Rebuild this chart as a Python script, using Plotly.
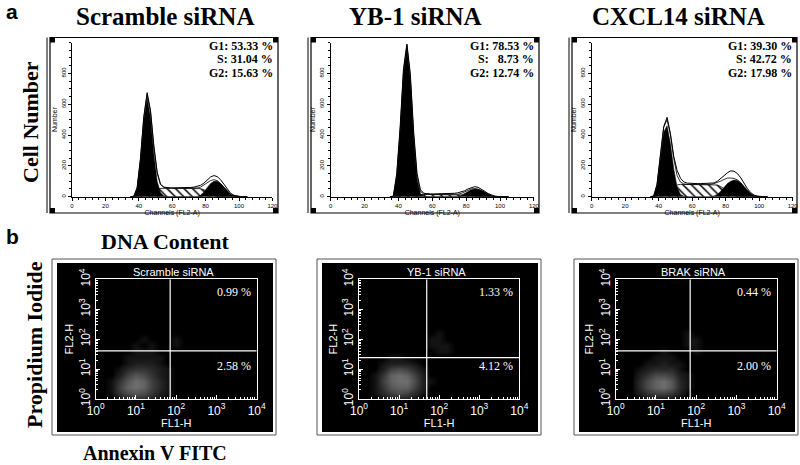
import math
import plotly.graph_objects as go

# ---------------- data ----------------
channels = [35, 37, 39, 41, 43, 45, 47, 49, 51, 53, 55, 57, 59, 61, 63, 65, 67, 69,
            71, 73, 75, 77, 79, 81, 83, 85, 87, 89, 91, 93, 95, 97, 99, 101, 103, 105]

hist_titles = ["Scramble siRNA", "YB-1 siRNA", "CXCL14 siRNA"]
phase_text = [["G1: 53.33 %", "S: 31.04 %", "G2: 15.63 %"],
              ["G1: 78.53 %", "S:   8.73 %", "G2: 12.74 %"],
              ["G1: 39.30 %", "S: 42.72 %", "G2: 17.98 %"]]

scr_total = [0, 3, 60, 250, 520, 675, 560, 330, 160, 80, 62, 58, 57, 57, 57, 57, 57, 58,
             60, 62, 66, 74, 88, 108, 128, 137, 130, 110, 80, 48, 22, 9, 3, 1, 0, 0]
scr_g1 = [0, 0, 50, 230, 495, 640, 515, 275, 100, 25, 5, 0, 0, 0, 0, 0, 0, 0,
          0, 0, 0, 0, 0, 0, 0, 0, 0, 0, 0, 0, 0, 0, 0, 0, 0, 0]
scr_s = [0, 0, 3, 8, 15, 22, 35, 48, 53, 55, 55, 55, 55, 55, 55, 55, 55, 55,
         55, 55, 55, 52, 45, 33, 20, 10, 4, 0, 0, 0, 0, 0, 0, 0, 0, 0]
scr_g2 = [0, 0, 0, 0, 0, 0, 0, 0, 0, 0, 0, 0, 0, 0, 0, 0, 0, 0,
          0, 0, 2, 10, 30, 60, 85, 100, 100, 85, 60, 35, 15, 5, 1, 0, 0, 0]

yb_total = [0, 5, 150, 450, 830, 990, 800, 420, 150, 45, 22, 19, 18, 18, 18, 18, 18, 19,
            20, 22, 25, 30, 38, 50, 60, 65, 61, 50, 35, 20, 9, 3, 1, 0, 0, 0]
yb_g1 = [0, 0, 130, 420, 800, 970, 760, 380, 110, 20, 3, 0, 0, 0, 0, 0, 0, 0,
         0, 0, 0, 0, 0, 0, 0, 0, 0, 0, 0, 0, 0, 0, 0, 0, 0, 0]
yb_s = [0, 0, 2, 6, 10, 12, 13, 14, 14, 14, 14, 14, 14, 14, 14, 14, 14, 14,
        14, 14, 14, 13, 11, 8, 5, 3, 1, 0, 0, 0, 0, 0, 0, 0, 0, 0]
yb_g2 = [0, 0, 0, 0, 0, 0, 0, 0, 0, 0, 0, 0, 0, 0, 0, 0, 0, 0,
         0, 0, 2, 8, 20, 32, 45, 50, 48, 40, 28, 15, 6, 2, 0, 0, 0, 0]

cx_total = [0, 5, 80, 260, 455, 515, 410, 260, 170, 120, 96, 88, 86, 85, 85, 85, 85, 85,
            86, 89, 100, 116, 136, 155, 168, 165, 150, 122, 86, 52, 26, 10, 3, 1, 0, 0]
cx_g1 = [0, 0, 70, 240, 420, 460, 345, 180, 60, 15, 3, 0, 0, 0, 0, 0, 0, 0,
         0, 0, 0, 0, 0, 0, 0, 0, 0, 0, 0, 0, 0, 0, 0, 0, 0, 0]
cx_s = [0, 0, 5, 15, 30, 40, 55, 68, 76, 80, 80, 80, 80, 80, 80, 80, 80, 80,
        80, 80, 76, 66, 52, 36, 21, 10, 4, 1, 0, 0, 0, 0, 0, 0, 0, 0]
cx_g2 = [0, 0, 0, 0, 0, 0, 0, 0, 0, 0, 0, 0, 0, 0, 0, 0, 0, 0,
         0, 5, 15, 35, 60, 85, 100, 108, 105, 90, 65, 38, 18, 6, 1, 0, 0, 0]

hist_ticks = [0, 20, 40, 60, 80, 100, 120]
count_ticks = [0, 200, 400, 600, 800]

# Annexin V / PI dot plots: density on a log10 grid
dot_titles = ["Scramble siRNA", "YB-1 siRNA", "BRAK siRNA"]
quad_text = [["0.99 %", "2.58 %"], ["1.33 %", "4.12 %"], ["0.44 %", "2.00 %"]]
gate_fl1 = [1.85, 1.69, 1.85]   # log10 of quadrant gate on FL1-H
gate_fl2 = [1.61, 1.38, 1.61]   # log10 of quadrant gate on FL2-H
log_x = [0.2, 0.4, 0.6, 0.8, 1.0, 1.2, 1.4, 1.6, 1.8, 2.0, 2.2, 2.4, 2.6]
log_y = [0.0, 0.2, 0.4, 0.6, 0.8, 1.0, 1.2, 1.4, 1.6, 1.8, 2.0, 2.2, 2.4]
dens_scr = [
    [0, 0, 1, 2, 3, 3, 2, 1, 0, 0, 0, 0, 0],
    [0, 1, 4, 6, 7, 6, 4, 2, 1, 0, 0, 0, 0],
    [0, 1, 5, 8, 9, 8, 5, 3, 1, 0, 0, 0, 0],
    [0, 1, 4, 7, 9, 8, 5, 3, 1, 0, 0, 0, 0],
    [0, 0, 2, 5, 7, 6, 4, 2, 1, 0, 0, 0, 0],
    [0, 0, 1, 3, 4, 4, 3, 2, 1, 0, 0, 0, 0],
    [0, 0, 0, 1, 2, 2, 2, 1, 0, 0, 0, 0, 0],
    [0, 0, 0, 1, 1, 1, 1, 1, 0, 0, 0, 0, 0],
    [0, 0, 0, 0, 1, 1, 1, 0, 0, 0, 0, 0, 0],
    [0, 0, 0, 0, 1, 0, 1, 0, 0, 1, 0, 0, 0],
    [0, 0, 0, 0, 0, 1, 0, 0, 0, 1, 0, 0, 0],
    [0, 0, 0, 0, 0, 0, 0, 0, 0, 0, 0, 0, 0],
    [0, 0, 0, 0, 0, 0, 0, 0, 0, 0, 0, 0, 0]]
dens_yb = [
    [0, 0, 1, 2, 2, 2, 1, 0, 0, 0, 0, 0, 0],
    [0, 1, 3, 5, 6, 5, 3, 1, 0, 0, 0, 0, 0],
    [0, 1, 4, 7, 8, 8, 5, 2, 0, 0, 0, 0, 0],
    [0, 1, 5, 8, 9, 9, 6, 2, 1, 0, 0, 0, 0],
    [0, 1, 4, 8, 9, 8, 5, 2, 0, 0, 0, 0, 0],
    [0, 0, 2, 5, 6, 5, 3, 1, 0, 0, 0, 0, 0],
    [0, 0, 1, 2, 2, 2, 1, 0, 0, 0, 0, 0, 0],
    [0, 0, 0, 1, 1, 0, 0, 0, 0, 0, 0, 0, 0],
    [0, 0, 0, 0, 0, 0, 0, 0, 0, 1, 1, 0, 0],
    [0, 0, 0, 0, 0, 0, 0, 0, 1, 1, 1, 0, 0],
    [0, 0, 0, 0, 0, 0, 0, 0, 1, 1, 0, 0, 0],
    [0, 0, 0, 0, 0, 0, 0, 0, 0, 1, 0, 0, 0],
    [0, 0, 0, 0, 0, 0, 0, 0, 0, 0, 0, 0, 0]]
dens_brak = [
    [0, 0, 0, 1, 1, 1, 1, 0, 0, 0, 0, 0, 0],
    [0, 0, 2, 4, 5, 5, 4, 2, 0, 0, 0, 0, 0],
    [0, 0, 3, 6, 8, 9, 7, 3, 1, 0, 0, 0, 0],
    [0, 0, 3, 6, 8, 9, 7, 3, 1, 0, 0, 0, 0],
    [0, 0, 2, 4, 6, 6, 5, 2, 1, 0, 0, 0, 0],
    [0, 0, 1, 2, 3, 3, 3, 1, 0, 0, 0, 0, 0],
    [0, 0, 0, 1, 1, 2, 1, 1, 0, 0, 0, 0, 0],
    [0, 0, 0, 0, 1, 1, 1, 0, 0, 0, 0, 0, 0],
    [0, 0, 0, 0, 0, 1, 0, 0, 0, 1, 0, 0, 0],
    [0, 0, 0, 0, 0, 0, 0, 0, 1, 1, 0, 0, 0],
    [0, 0, 0, 0, 0, 0, 0, 0, 1, 1, 0, 0, 0],
    [0, 0, 0, 0, 0, 0, 0, 0, 1, 0, 0, 0, 0],
    [0, 0, 0, 0, 0, 0, 0, 0, 0, 0, 0, 0, 0]]
decades = [0, 1, 2, 3, 4]

# ---------------- layout helpers ----------------
W, H = 800, 465
def PX(x): return x / W
def PY(y): return 1 - y / H

SERIF = "Liberation Serif"
SANS = "Liberation Sans"

fig = go.Figure()
shapes, annotations = [], []

# histogram geometry (pixels): x of channel 0, x of channel 120
hist_x = [(72, 272.4), (330.7, 533.9), (591.7, 792.7)]
hist_frame = [(50, 278), (311, 539), (572, 797)]
hist_sets = [(scr_total, scr_g1, scr_s, scr_g2),
             (yb_total, yb_g1, yb_s, yb_g2),
             (cx_total, cx_g1, cx_s, cx_g2)]
title_cx = [165, 415, 678]

for i in range(3):
    n = i + 1
    xa, ya = f"x{n}", f"y{n}"
    total, g1, s, g2 = hist_sets[i]
    fit = [a + b + c for a, b, c in zip(g1, s, g2)]
    fig.add_trace(go.Scatter(x=channels, y=total, xaxis=xa, yaxis=ya, mode="lines",
                             line=dict(color="black", width=1), fill="tozeroy",
                             fillcolor="white", showlegend=False))
    fig.add_trace(go.Scatter(x=channels, y=s, xaxis=xa, yaxis=ya, mode="lines",
                             line=dict(color="black", width=0.8), fill="tozeroy",
                             fillcolor="white",
                             fillpattern=dict(shape="\\", fgcolor="black", bgcolor="white",
                                              size=6, solidity=0.25),
                             showlegend=False))
    fig.add_trace(go.Scatter(x=channels, y=fit, xaxis=xa, yaxis=ya, mode="lines",
                             line=dict(color="black", width=0.8), showlegend=False))
    fig.add_trace(go.Scatter(x=channels, y=g1, xaxis=xa, yaxis=ya, mode="lines",
                             line=dict(color="black", width=0.5), fill="tozeroy",
                             fillcolor="black", showlegend=False))
    fig.add_trace(go.Scatter(x=channels, y=g2, xaxis=xa, yaxis=ya, mode="lines",
                             line=dict(color="black", width=0.5), fill="tozeroy",
                             fillcolor="black", showlegend=False))
    x0, x1 = hist_x[i]
    axx = dict(domain=[PX(x0), PX(x1)], range=[0, 120], anchor=ya, automargin=False,
               tickvals=hist_ticks, ticktext=[str(t) for t in hist_ticks],
               ticks="outside", ticklen=3, tickwidth=0.8, tickcolor="black",
               minor=dict(dtick=4, tick0=0, ticks="outside", ticklen=2, tickcolor="black"),
               showline=True, linecolor="black", linewidth=1, showgrid=False, zeroline=False,
               tickfont=dict(family=SANS, size=6, color="black"),
               title=dict(text="Channels (FL2-A)", font=dict(family=SANS, size=7, color="black"),
                          standoff=0))
    axy = dict(domain=[PY(196.7), PY(42.5)], range=[0, 1000], anchor=xa, automargin=False,
               tickvals=count_ticks, ticktext=[str(t) for t in count_ticks], tickangle=-90,
               ticks="outside", ticklen=3, tickwidth=0.8, tickcolor="black",
               minor=dict(dtick=50, tick0=0, ticks="outside", ticklen=2, tickcolor="black"),
               showline=True, linecolor="black", linewidth=1, showgrid=False, zeroline=False,
               tickfont=dict(family=SANS, size=6, color="black"),
               title=dict(text="Number", font=dict(family=SANS, size=7, color="black"),
                          standoff=2))
    fig.update_layout(**{f"xaxis{n}": axx, f"yaxis{n}": axy})

    fl, fr = hist_frame[i]
    shapes.append(dict(type="rect", xref="paper", yref="paper", x0=PX(fl), x1=PX(fr),
                       y0=PY(213), y1=PY(37.5), line=dict(color="black", width=1.2)))
    shapes.append(dict(type="line", xref="paper", yref="paper", x0=PX(fl - 3), x1=PX(fl - 3),
                       y0=PY(213), y1=PY(37.5), line=dict(color="black", width=1)))
    for (cx, cy) in [(fl + 2.5, 40), (fr - 2.5, 40), (fl + 2.5, 210.5), (fr - 2.5, 210.5)]:
        shapes.append(dict(type="rect", xref="paper", yref="paper", x0=PX(cx - 2.5),
                           x1=PX(cx + 2.5), y0=PY(cy + 2.5), y1=PY(cy - 2.5),
                           fillcolor="black", line=dict(width=0)))
    for k, t in enumerate(phase_text[i]):
        annotations.append(dict(text="<b>" + t + "</b>", x=PX(fr - 3), y=PY(46 + 13.5 * k),
                                xref="paper", yref="paper", xanchor="right", yanchor="middle",
                                showarrow=False, font=dict(family=SERIF, size=12, color="black")))
    annotations.append(dict(text="<b>" + hist_titles[i] + "</b>", x=PX(title_cx[i]), y=PY(16),
                            xref="paper", yref="paper", xanchor="center", yanchor="middle",
                            showarrow=False, font=dict(family=SERIF, size=25, color="black")))

# dot plots
dot_x = [(95.7, 256.7), (359, 519.3), (615.7, 776.7)]
dot_black = [(57, 273), (322, 538), (579, 795)]
dens_sets = [dens_scr, dens_yb, dens_brak]
minor_vals = []
for d in range(4):
    for m in range(2, 10):
        minor_vals.append(d + math.log10(m))
for i in range(3):
    n = i + 4
    xa, ya = f"x{n}", f"y{n}"
    fig.add_trace(go.Heatmap(x=log_x, y=log_y, z=dens_sets[i], xaxis=xa, yaxis=ya,
                             zmin=0, zmax=9, zsmooth="best", showscale=False,
                             colorscale=[[0, "#000000"], [0.12, "#141414"], [0.45, "#353535"],
                                         [1, "#6e6e6e"]], hoverinfo="skip"))
    x0, x1 = dot_x[i]
    tt = [f"10<sup>{d}</sup>" for d in decades]
    common = dict(range=[0, 4], tickvals=decades, ticktext=tt, ticks="inside", ticklen=4,
                  tickcolor="white", tickwidth=1, automargin=False,
                  minor=dict(tickvals=minor_vals, ticks="inside", ticklen=2, tickcolor="white"),
                  showline=True, mirror=True, linecolor="white", linewidth=1.2,
                  showgrid=False, zeroline=False,
                  tickfont=dict(family=SANS, size=12, color="white"))
    axx = dict(common, domain=[PX(x0), PX(x1)], anchor=ya,
               title=dict(text="FL1-H", font=dict(family=SANS, size=11, color="white"),
                          standoff=0))
    axy = dict(common, domain=[PY(399), PY(279.3)], anchor=xa, tickangle=-90,
               title=dict(text="FL2-H", font=dict(family=SANS, size=11, color="white"),
                          standoff=0))
    fig.update_layout(**{f"xaxis{n}": axx, f"yaxis{n}": axy})
    bl, br = dot_black[i]
    shapes.append(dict(type="rect", xref="paper", yref="paper", x0=PX(bl), x1=PX(br),
                       y0=PY(432), y1=PY(263), fillcolor="black", line=dict(width=0),
                       layer="below"))
    shapes.append(dict(type="rect", xref="paper", yref="paper", x0=PX(bl - 5), x1=PX(br + 3),
                       y0=PY(435), y1=PY(259), line=dict(color="#555", width=1),
                       layer="below"))
    shapes.append(dict(type="line", xref=xa, yref=ya, x0=gate_fl1[i], x1=gate_fl1[i],
                       y0=0, y1=4, line=dict(color="white", width=1.2)))
    shapes.append(dict(type="line", xref=xa, yref=ya, x0=0, x1=4, y0=gate_fl2[i],
                       y1=gate_fl2[i], line=dict(color="white", width=1.2)))
    annotations.append(dict(text=dot_titles[i], x=PX((x0 + x1) / 2 - 3), y=PY(272),
                            xref="paper", yref="paper", xanchor="center", yanchor="middle",
                            showarrow=False,
                            font=dict(family=SANS, size=11, color="white")))
    for k, t in enumerate(quad_text[i]):
        annotations.append(dict(text=t, x=PX(x1 - 4), y=PY([292, 366][k]),
                                xref="paper", yref="paper", xanchor="right", yanchor="middle",
                                showarrow=False, font=dict(family=SERIF, size=12, color="white")))

# big labels
big = [
    dict(text="<b>a</b>", x=PX(4), y=PY(12), xanchor="left", yanchor="middle",
         font=dict(family=SANS, size=21, color="black")),
    dict(text="<b>b</b>", x=PX(4), y=PY(237), xanchor="left", yanchor="middle",
         font=dict(family=SANS, size=21, color="black")),
    dict(text="<b>Cell Number</b>", x=PX(30), y=PY(122), xanchor="center", yanchor="middle",
         textangle=-90, font=dict(family=SERIF, size=22, color="black")),
    dict(text="<b>DNA Content</b>", x=PX(165), y=PY(241), xanchor="center", yanchor="middle",
         font=dict(family=SERIF, size=22, color="black")),
    dict(text="<b>Propidium Iodide</b>", x=PX(34), y=PY(345), xanchor="center",
         yanchor="middle", textangle=-90, font=dict(family=SERIF, size=22, color="black")),
    dict(text="<b>Annexin V FITC</b>", x=PX(155), y=PY(453), xanchor="center",
         yanchor="middle", font=dict(family=SERIF, size=20, color="black")),
]
for a in big:
    a.update(xref="paper", yref="paper", showarrow=False)
annotations += big

fig.update_layout(width=W, height=H, margin=dict(l=0, r=0, t=0, b=0, autoexpand=False),
                  template="none",
                  paper_bgcolor="white", plot_bgcolor="rgba(0,0,0,0)",
                  shapes=shapes, annotations=annotations, showlegend=False)
# drop the page's default 8 px body margin so the 800x465 figure fills the window exactly
fig.write_html("out.html",
               config={"displayModeBar": False},
               post_script="document.body.style.margin='0';"
                           "document.body.style.overflow='hidden';")
